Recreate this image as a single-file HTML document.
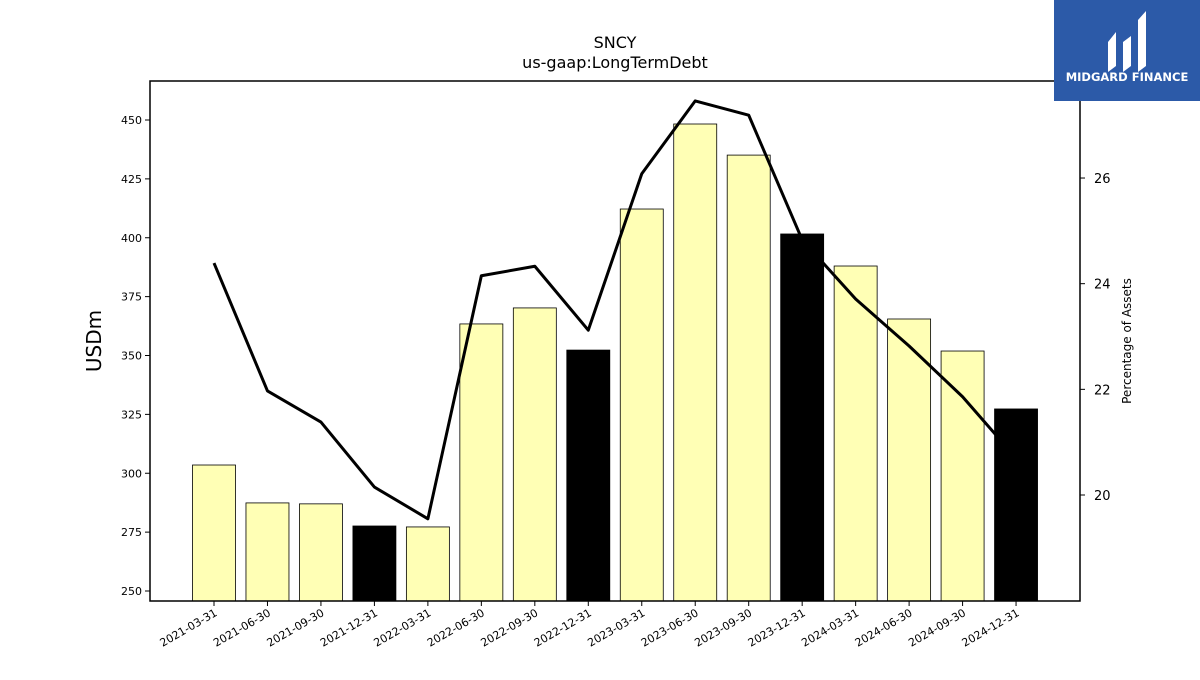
<!DOCTYPE html>
<html><head><meta charset="utf-8"><style>
body{margin:0;background:#fff;width:1200px;height:675px;overflow:hidden;font-family:"Liberation Sans","DejaVu Sans",sans-serif}
</style></head><body>
<svg id="chart" width="1200" height="675" xmlns="http://www.w3.org/2000/svg" font-family="DejaVu Sans, Liberation Sans, sans-serif">
<text x="615" y="48" text-anchor="middle" font-size="16">SNCY</text>
<text x="615" y="68" text-anchor="middle" font-size="16">us-gaap:LongTermDebt</text>
<text transform="translate(101,341) rotate(-90)" text-anchor="middle" font-size="20">USDm</text>
<text transform="translate(1131,341) rotate(-90)" text-anchor="middle" font-size="12">Percentage of Assets</text>
<g id="bars"></g><g id="line"></g><g id="axes"></g>
<rect x="150" y="81" width="930" height="520" fill="none" stroke="#000" stroke-width="1.5"/>
<g>
<rect x="1054" y="0" width="146" height="101" fill="#2c5aa8"/>
<path d="M1108 42 L1116 32 L1116 66 L1108 72 Z M1123 42 L1131 36 L1131 66 L1123 72 Z M1138 20 L1146 11 L1146 66 L1138 72 Z" fill="#fff"/>
<text x="1127" y="81" text-anchor="middle" font-size="11.5" font-weight="bold" fill="#fff">MIDGARD FINANCE</text>
</g>
</svg>
<script>
const categories=["2021-03-31","2021-06-30","2021-09-30","2021-12-31","2022-03-31","2022-06-30","2022-09-30","2022-12-31","2023-03-31","2023-06-30","2023-09-30","2023-12-31","2024-03-31","2024-06-30","2024-09-30","2024-12-31"];
const debtValues=[303.5,287.4,287,277.6,277.2,363.4,370.2,352.3,412.2,448.3,435.1,401.6,388,365.5,351.9,327.3];
const pctAssets=[24.39,21.97,21.38,20.15,19.55,24.15,24.33,23.12,26.08,27.46,27.19,24.83,23.71,22.82,21.86,20.70];
const leftTicks=[250,275,300,325,350,375,400,425,450];
const rightTicks=[20,22,24,26];
const NS="http://www.w3.org/2000/svg";
const X0=150,X1=1080,Y0=81,Y1=601;
const yL=v=>591-(v-250)*2.355;
const yR=v=>495-(v-20)*52.83;
const step=(X1-X0)/16.0*0.9206;
const xC=i=>214+i*53.47;
function mk(t,a,p){const e=document.createElementNS(NS,t);for(const k in a)e.setAttribute(k,a[k]);p.appendChild(e);return e;}
const gb=document.getElementById('bars'),gl=document.getElementById('line'),ga=document.getElementById('axes');
debtValues.forEach((v,i)=>{
 const dark=categories[i].endsWith('12-31');
 const r=mk('rect',{x:xC(i)-21.5,y:yL(v),width:43,height:Y1-yL(v),fill:dark?'#000':'#ffffb5',stroke:'#000','stroke-width':0.8},gb);
 
 
 mk('line',{x1:xC(i),x2:xC(i),y1:Y1,y2:Y1+5,stroke:'#000'},ga);
 const t=mk('text',{transform:`translate(${xC(i)+4},${Y1+14}) rotate(-30)`,'text-anchor':'end','font-size':11},ga);
 t.textContent=categories[i];
 
 
});
const pl=mk('polyline',{points:pctAssets.map((v,i)=>xC(i)+','+yR(v)).join(' '),fill:'none',stroke:'#000','stroke-width':3,'stroke-linejoin':'round'},gl);


leftTicks.forEach(v=>{
 mk('line',{x1:X0-5,x2:X0,y1:yL(v),y2:yL(v),stroke:'#000'},ga);
 const t=mk('text',{x:X0-8,y:yL(v)+4,'text-anchor':'end','font-size':11},ga);t.textContent=v;
 
 
});
rightTicks.forEach(v=>{
 mk('line',{x1:X1,x2:X1+5,y1:yR(v),y2:yR(v),stroke:'#000'},ga);
 const t=mk('text',{x:X1+14,y:yR(v)+5,'font-size':13},ga);t.textContent=v;
 
 
});
</script>
</body></html>
